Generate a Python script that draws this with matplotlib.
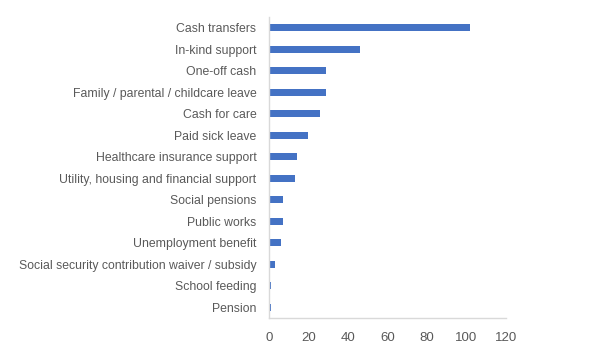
import matplotlib.pyplot as plt

categories = [
    'Cash transfers',
    'In-kind support',
    'One-off cash',
    'Family / parental / childcare leave',
    'Cash for care',
    'Paid sick leave',
    'Healthcare insurance support',
    'Utility, housing and financial support',
    'Social pensions',
    'Public works',
    'Unemployment benefit',
    'Social security contribution waiver / subsidy',
    'School feeding',
    'Pension',
]
counts = [102, 46, 29, 29, 26, 20, 14, 13, 7, 7, 6, 3, 1, 1]
x_ticks = [0, 20, 40, 60, 80, 100, 120]

plt.rcParams['font.family'] = ['Liberation Sans', 'DejaVu Sans']
text_color = '#595959'

fig = plt.figure(figsize=(6.01, 3.61), dpi=100)
ax = fig.add_axes([269 / 601, 1 - 318 / 361, (505.7 - 269) / 601, (318 - 17) / 361])

pos = list(range(len(categories)))
ax.barh(pos, counts, height=0.34, color='#4472C4')
ax.set_ylim(len(categories) - 0.5, -0.5)
ax.set_xlim(0, 120)
ax.set_yticks(pos)
ax.set_yticklabels(categories)
ax.set_xticks(x_ticks)

for side in ['top', 'right']:
    ax.spines[side].set_visible(False)
for side in ['left', 'bottom']:
    ax.spines[side].set_color('#D9D9D9')
    ax.spines[side].set_linewidth(1.0)

ax.tick_params(axis='y', length=0, pad=9, labelsize=8.8, labelcolor=text_color)
ax.tick_params(axis='x', length=0, pad=10, labelsize=9.5, labelcolor=text_color)

fig.savefig('out.png', dpi=100)
